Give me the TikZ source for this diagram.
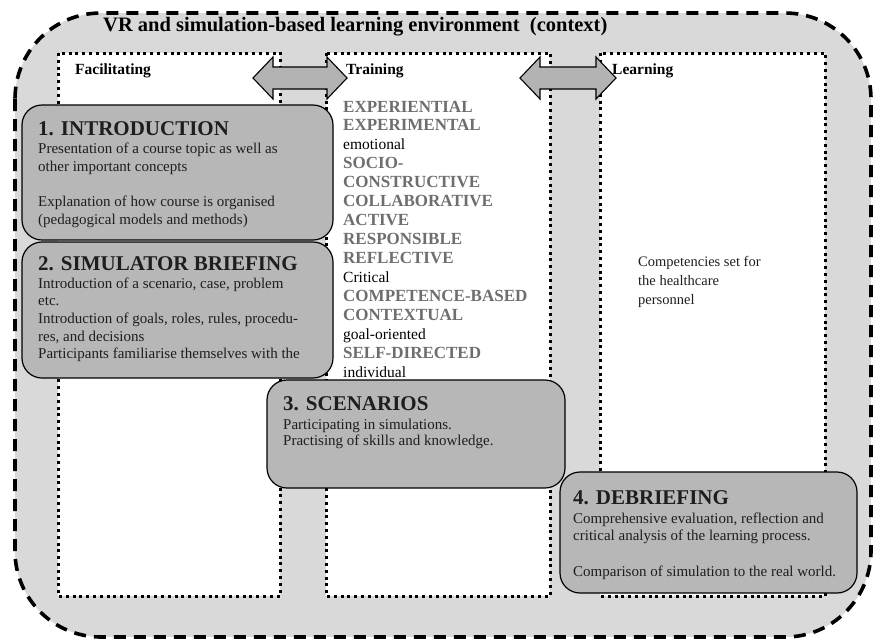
\documentclass[tikz,border=0pt]{standalone}
\usepackage{fontspec}
\setmainfont{Liberation Serif}
\definecolor{ctxgray}{HTML}{D9D9D9}
\definecolor{boxgray}{HTML}{B7B7B7}
\definecolor{arrgray}{HTML}{B3B3B3}
\definecolor{capgray}{HTML}{6E6E6E}
\definecolor{inkdark}{HTML}{1E1E1E}
\begin{document}
\begin{tikzpicture}[x=1pt,y=-1pt,
  context/.style={draw=black,fill=ctxgray,line width=3.6pt,dash pattern=on 12pt off 8pt,rounded corners=86pt},
  zone/.style={draw=black,fill=white,line width=3pt,dash pattern=on 3pt off 3.8pt},
  phase/.style={draw=black,fill=boxgray,line width=1.2pt,rounded corners=20pt},
  dblarrow/.style={draw=black,fill=arrgray,line width=1.1pt},
  txt/.style={anchor=base west,inner sep=0pt,text=inkdark,font=\fontsize{15}{17}\selectfont},
  ttl/.style={anchor=base west,inner sep=0pt,text=inkdark,font=\fontsize{21}{23}\selectfont\bfseries},
  zlabel/.style={anchor=base west,inner sep=0pt,font=\fontsize{15.5}{17}\selectfont\bfseries},
  capword/.style={anchor=base west,inner sep=0pt,text=capgray,font=\fontsize{17}{19}\selectfont\bfseries},
  lowword/.style={anchor=base west,inner sep=0pt,text=black,font=\fontsize{15.5}{17}\selectfont}]
\useasboundingbox (0,0) rectangle (877,641);

% outer context
\draw[context] (15,13) rectangle (871,637);
\node[anchor=base west,inner sep=0pt,font=\fontsize{20.5}{23}\selectfont\bfseries] (ctx) at (103,31) {VR and simulation-based learning environment\ \ (context)};

% three zones
\draw[zone] (58,53) rectangle (280,596);
\draw[zone] (326,53) rectangle (550,596);
\draw[zone] (600,53) rectangle (825,596);
\node[zlabel] (fac) at (75,74) {Facilitating};
\node[zlabel] (tra) at (346,74) {Training};
\node[zlabel] (lea) at (612,74) {Learning};

% double arrows between zones
\draw[dblarrow] (253,78) -- (273,57) -- (273,67) -- (327,67) -- (327,57) -- (347,78)
  -- (327,99) -- (327,89) -- (273,89) -- (273,99) -- cycle;
\draw[dblarrow] (520,78) -- (540,57) -- (540,67) -- (596,67) -- (596,57) -- (616,78)
  -- (596,99) -- (596,89) -- (540,89) -- (540,99) -- cycle;

% learning characteristics
\foreach \w/\s [count=\i from 0] in {EXPERIENTIAL/capword,EXPERIMENTAL/capword,emotional/lowword,SOCIO-/capword,CONSTRUCTIVE/capword,COLLABORATIVE/capword,ACTIVE/capword,RESPONSIBLE/capword,REFLECTIVE/capword,Critical/lowword,COMPETENCE-BASED/capword,CONTEXTUAL/capword,goal-oriented/lowword,SELF-DIRECTED/capword,individual/lowword}
  \node[\s] (w\i) at (343,112+18.93*\i) {\w};

% competencies
\node[txt,font=\fontsize{14.5}{17}\selectfont] (comp1) at (638,266) {Competencies set for};
\node[txt,font=\fontsize{14.5}{17}\selectfont] (comp2) at (638,285) {the healthcare};
\node[txt,font=\fontsize{14.5}{17}\selectfont] (comp3) at (638,304) {personnel};

% phase 1
\draw[phase] (22,105) rectangle (333,240);
\node[ttl] (p1) at (38,135) {1. INTRODUCTION};
\node[txt] (p1a) at (38,153) {Presentation of a course topic as well as};
\node[txt] (p1b) at (38,171) {other important concepts};
\node[txt] (p1c) at (38,206) {Explanation of how course is organised};
\node[txt] (p1d) at (38,224) {(pedagogical models and methods)};

% phase 2
\draw[phase] (22,242) rectangle (333,378);
\node[ttl] (p2) at (38,270) {2. SIMULATOR BRIEFING};
\node[txt] (p2a) at (38,288) {Introduction of a scenario, case, problem};
\node[txt] (p2b) at (38,305) {etc.};
\node[txt] (p2c) at (38,323) {Introduction of goals, roles, rules, procedu-};
\node[txt] (p2d) at (38,341) {res, and decisions};
\node[txt] (p2e) at (38,358) {Participants familiarise themselves with the};

% phase 3
\draw[phase] (267,380) rectangle (565,488);
\node[ttl] (p3) at (283,410) {3. SCENARIOS};
\node[txt] (p3a) at (283,429) {Participating in simulations.};
\node[txt] (p3b) at (283,445) {Practising of skills and knowledge.};

% phase 4
\draw[phase] (560,472) rectangle (857,593);
\node[ttl] (p4) at (573,504) {4. DEBRIEFING};
\node[txt] (p4a) at (573,523) {Comprehensive evaluation, reflection and};
\node[txt] (p4b) at (573,540) {critical analysis of the learning process.};
\node[txt] (p4c) at (573,576) {Comparison of simulation to the real world.};
\end{tikzpicture}
\end{document}
